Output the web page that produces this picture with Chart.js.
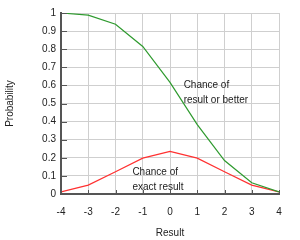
<!DOCTYPE html>
<html><head><meta charset="utf-8">
<script src="https://cdn.jsdelivr.net/npm/chart.js@4"></script>
<style>html,body{margin:0;padding:0;background:#fff}#w{width:300px;height:240px}</style>
</head><body><div id="w"><canvas id="c"></canvas></div>
<script>
const results = [-4, -3, -2, -1, 0, 1, 2, 3, 4];
const orBetter = [1.0, 0.988, 0.938, 0.815, 0.617, 0.383, 0.185, 0.062, 0.012];
const exact = [0.012, 0.049, 0.123, 0.198, 0.235, 0.198, 0.123, 0.049, 0.012];
const yTicks = [0, 0.1, 0.2, 0.3, 0.4, 0.5, 0.6, 0.7, 0.8, 0.9, 1];
const notes = [
  {x: 0.5, y: 0.6, lines: ['Chance of', 'result or better']},
  {x: -1.38, y: 0.12, lines: ['Chance of', 'exact result']}
];
const font = {family: 'Liberation Sans, Arial, sans-serif', size: 10};

const notePlugin = {
  id: 'notes',
  afterDatasetsDraw(chart) {
    const {ctx, scales: {x, y}, chartArea: a} = chart;
    ctx.save();
    ctx.strokeStyle = '#555'; ctx.lineWidth = 1;
    yTicks.forEach(v => {
      const py = Math.round(y.getPixelForValue(v)) + 0.5;
      ctx.beginPath(); ctx.moveTo(a.left, py); ctx.lineTo(a.left + 6, py); ctx.stroke();
    });
    results.forEach(v => {
      const px = Math.round(x.getPixelForValue(v)) + 0.5;
      ctx.beginPath(); ctx.moveTo(px, a.bottom); ctx.lineTo(px, a.bottom - 4); ctx.stroke();
    });
    ctx.fillStyle = '#222';
    ctx.font = '10px Liberation Sans, Arial, sans-serif';
    ctx.textAlign = 'left'; ctx.textBaseline = 'middle';
    notes.forEach(n => {
      const px = x.getPixelForValue(n.x), py = y.getPixelForValue(n.y);
      n.lines.forEach((t, i) => ctx.fillText(t, px, py + i * 15));
    });
    ctx.restore();
  }
};

new Chart(document.getElementById('c'), {
  type: 'line',
  data: {
    datasets: [
      {data: results.map((r, i) => ({x: r, y: orBetter[i]})), borderColor: '#2e9a2e', borderWidth: 1.2, pointRadius: 0, tension: 0},
      {data: results.map((r, i) => ({x: r, y: exact[i]})), borderColor: '#ff3030', borderWidth: 1.2, pointRadius: 0, tension: 0}
    ]
  },
  options: {
    responsive: true, maintainAspectRatio: false, animation: false,
    layout: {padding: {top: 13, right: 21, left: 0, bottom: 0}},
    plugins: {legend: {display: false}, tooltip: {enabled: false}},
    scales: {
      x: {
        type: 'linear', min: -4, max: 4,
        afterBuildTicks: s => { s.ticks = results.map(v => ({value: v})); },
        afterFit: s => { s.height = 46; },
        grid: {color: '#cfcfcf', drawTicks: false},
        border: {color: '#555', width: 2},
        ticks: {color: '#222', font, padding: 12, callback: v => String(v)},
        title: {display: true, text: 'Result', color: '#222', font, padding: {top: 8, bottom: 1}}
      },
      y: {
        min: 0, max: 1,
        afterBuildTicks: s => { s.ticks = yTicks.map(v => ({value: v})); },
        afterFit: s => { s.width = 61; },
        grid: {color: '#cfcfcf', drawTicks: false},
        border: {color: '#555', width: 2},
        ticks: {color: '#222', font, padding: 5, callback: v => String(Math.round(v * 10) / 10)},
        title: {display: true, text: 'Probability', color: '#222', font, padding: {bottom: 8}}
      }
    }
  },
  plugins: [notePlugin]
});
</script></body></html>
